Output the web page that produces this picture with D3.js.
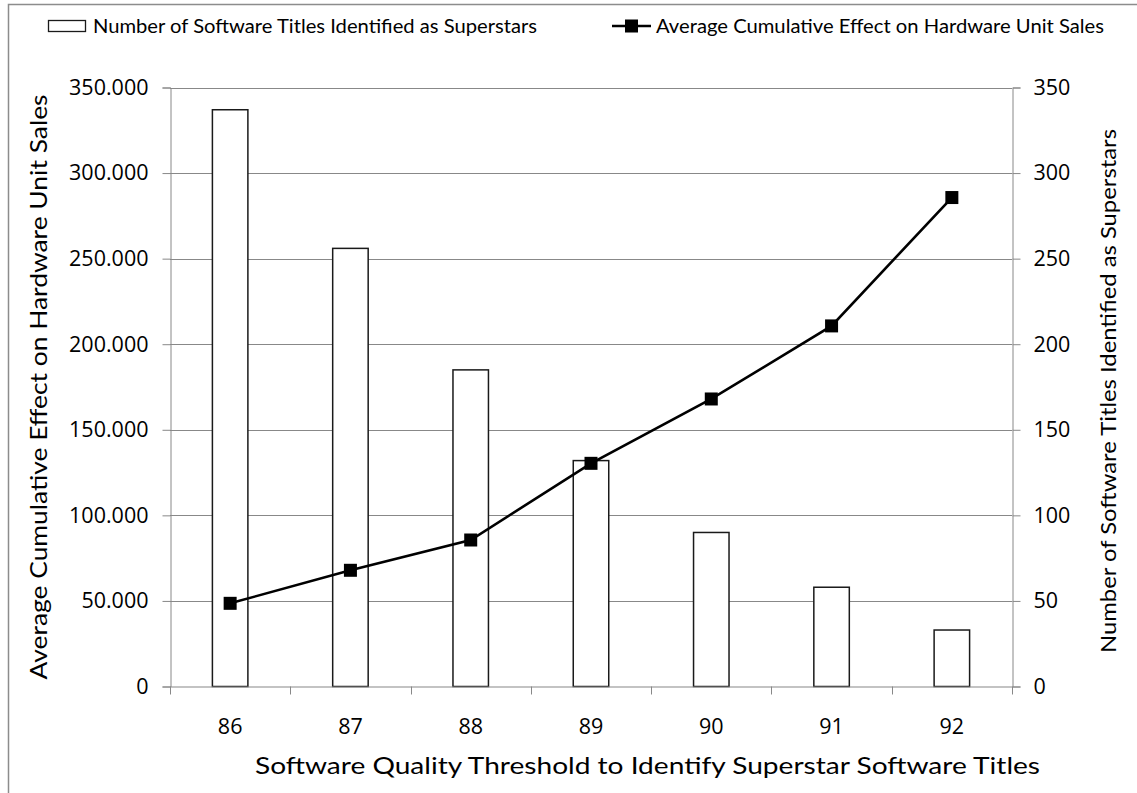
<!DOCTYPE html>
<html>
<head>
<meta charset="utf-8">
<script src="https://cdn.jsdelivr.net/npm/d3@7"></script>
<style>
  html, body { margin: 0; padding: 0; background: #fff; }
  svg { display: block; }
  text { fill: #000; }
  .title, .legend { font-family: Lato, "Open Sans", sans-serif; }
</style>
</head>
<body>
<svg id="chart" width="1137" height="793"></svg>
<script>
// Quality thresholds on the x axis
const thresholds = ["86", "87", "88", "89", "90", "91", "92"];
// Bars: number of titles counted as superstars (right axis)
const superstarCounts = [337, 256, 185, 132, 90, 58, 33];
// Line: average cumulative effect on hardware unit sales (left axis)
const hardwareEffect = [48600, 67900, 85600, 130400, 168000, 210700, 285700];
// Axis ticks
const leftTicks = [0, 50000, 100000, 150000, 200000, 250000, 300000, 350000];
const rightTicks = [0, 50, 100, 150, 200, 250, 300, 350];

const seriesNames = {
  bars: "Number of Software Titles Identified as Superstars",
  line: "Average Cumulative Effect on Hardware Unit Sales"
};
const xTitle = "Software Quality Threshold to Identify Superstar Software Titles";

const svg = d3.select("#chart");
const W = 1137, H = 793;
const plot = { left: 170, right: 1012, top: 87.5, bottom: 686.5 };
const gridColor = "#888888";
const tickFont = "Open Sans, sans-serif";

// Dot as thousands separator
const locale = d3.formatLocale({ decimal: ",", thousands: ".", grouping: [3], currency: ["", ""] });
const fmtLeft = locale.format(",d");

const x = d3.scaleBand().domain(thresholds).range([plot.left, plot.right]).paddingInner(0).paddingOuter(0);
const yLeft = d3.scaleLinear().domain([0, 350000]).range([plot.bottom, plot.top]);
const yRight = d3.scaleLinear().domain([0, 350]).range([plot.bottom, plot.top]);

// Outer frame
svg.append("rect")
  .attr("x", 8.5).attr("y", 4.5).attr("width", W + 20).attr("height", H + 20)
  .attr("fill", "#fff").attr("stroke", "#8c8c8c").attr("stroke-width", 1.5);

// Horizontal gridlines
svg.append("g").selectAll("line").data(leftTicks.filter(d => d > 0)).join("line")
  .attr("x1", plot.left).attr("x2", plot.right)
  .attr("y1", d => Math.round(yLeft(d)) + 0.5).attr("y2", d => Math.round(yLeft(d)) + 0.5)
  .attr("stroke", gridColor).attr("stroke-width", 1);

// Left axis
const gLeft = svg.append("g").attr("transform", `translate(${plot.left + 0.5},0)`)
  .call(d3.axisLeft(yLeft).tickValues(leftTicks).tickFormat(fmtLeft).tickSize(8).tickPadding(14));
// Right axis
const gRight = svg.append("g").attr("transform", `translate(${plot.right + 0.5},0)`)
  .call(d3.axisRight(yRight).tickValues(rightTicks).tickFormat(d3.format("d")).tickSize(8).tickPadding(13));

[gLeft, gRight].forEach(g => {
  g.select(".domain").attr("stroke", gridColor).attr("stroke-width", 1);
  g.selectAll(".tick line").attr("stroke", gridColor);
  g.selectAll(".tick text").attr("font-family", tickFont).attr("font-size", 21.5).attr("fill", "#000");
});

// Bars
const barW = x.bandwidth() * 0.295;
svg.append("g").selectAll("rect").data(thresholds).join("rect")
  .attr("x", (d) => x(d) + x.bandwidth() / 2 - barW / 2)
  .attr("y", (d, i) => yRight(superstarCounts[i]))
  .attr("width", barW)
  .attr("height", (d, i) => plot.bottom - yRight(superstarCounts[i]))
  .attr("fill", "#fff").attr("stroke", "#1a1a1a").attr("stroke-width", 1.5);

// Bottom axis (drawn over the bar bases)
const gBottom = svg.append("g").attr("transform", `translate(0,${plot.bottom})`)
  .call(d3.axisBottom(x).tickSize(0).tickPadding(32));
gBottom.select(".domain").attr("stroke", gridColor).attr("stroke-width", 1.2);
gBottom.selectAll(".tick text").attr("font-family", tickFont).attr("font-size", 21.5).attr("fill", "#000");
// Category separator ticks
gBottom.append("g").selectAll("line").data(d3.range(thresholds.length + 1)).join("line")
  .attr("x1", i => Math.round(plot.left + i * x.step()) + 0.5)
  .attr("x2", i => Math.round(plot.left + i * x.step()) + 0.5)
  .attr("y1", 0).attr("y2", 8)
  .attr("stroke", gridColor).attr("stroke-width", 1);

// Line series
const pts = thresholds.map((d, i) => [x(d) + x.bandwidth() / 2, yLeft(hardwareEffect[i])]);
svg.append("path").datum(pts)
  .attr("d", d3.line())
  .attr("fill", "none").attr("stroke", "#000").attr("stroke-width", 2.6);
const mk = 13;
svg.append("g").selectAll("rect").data(pts).join("rect")
  .attr("x", p => p[0] - mk / 2).attr("y", p => p[1] - mk / 2)
  .attr("width", mk).attr("height", mk).attr("fill", "#000");

// Axis titles
svg.append("text").attr("class", "title")
  .attr("transform", `translate(47,${(plot.top + plot.bottom) / 2}) rotate(-90)`)
  .attr("text-anchor", "middle").attr("font-size", 22.5)
  .attr("textLength", 585).attr("lengthAdjust", "spacingAndGlyphs")
  .text(seriesNames.line);
svg.append("text").attr("class", "title")
  .attr("transform", `translate(1116,${(plot.top + plot.bottom) / 2 + 4}) rotate(-90)`)
  .attr("text-anchor", "middle").attr("font-size", 20.5)
  .attr("textLength", 524).attr("lengthAdjust", "spacingAndGlyphs")
  .text(seriesNames.bars);
svg.append("text").attr("class", "title")
  .attr("x", (255 + 1040) / 2).attr("y", 774)
  .attr("text-anchor", "middle").attr("font-size", 22.5)
  .attr("textLength", 785).attr("lengthAdjust", "spacingAndGlyphs")
  .text(xTitle);

// Legend
const lg = svg.append("g").attr("class", "legend");
lg.append("rect").attr("x", 48.5).attr("y", 20.5).attr("width", 37).attr("height", 11)
  .attr("fill", "#fff").attr("stroke", "#1a1a1a").attr("stroke-width", 1.3);
lg.append("text").attr("x", 93).attr("y", 32.5).attr("font-size", 18.5)
  .attr("textLength", 444).attr("lengthAdjust", "spacingAndGlyphs")
  .text(seriesNames.bars);
lg.append("line").attr("x1", 612).attr("x2", 651).attr("y1", 26).attr("y2", 26)
  .attr("stroke", "#000").attr("stroke-width", 2.6);
lg.append("rect").attr("x", 631.5 - 6.5).attr("y", 26 - 6.5).attr("width", 13).attr("height", 13).attr("fill", "#000");
lg.append("text").attr("x", 656).attr("y", 32.5).attr("font-size", 18.5)
  .attr("textLength", 448).attr("lengthAdjust", "spacingAndGlyphs")
  .text(seriesNames.line);
</script>
</body>
</html>
